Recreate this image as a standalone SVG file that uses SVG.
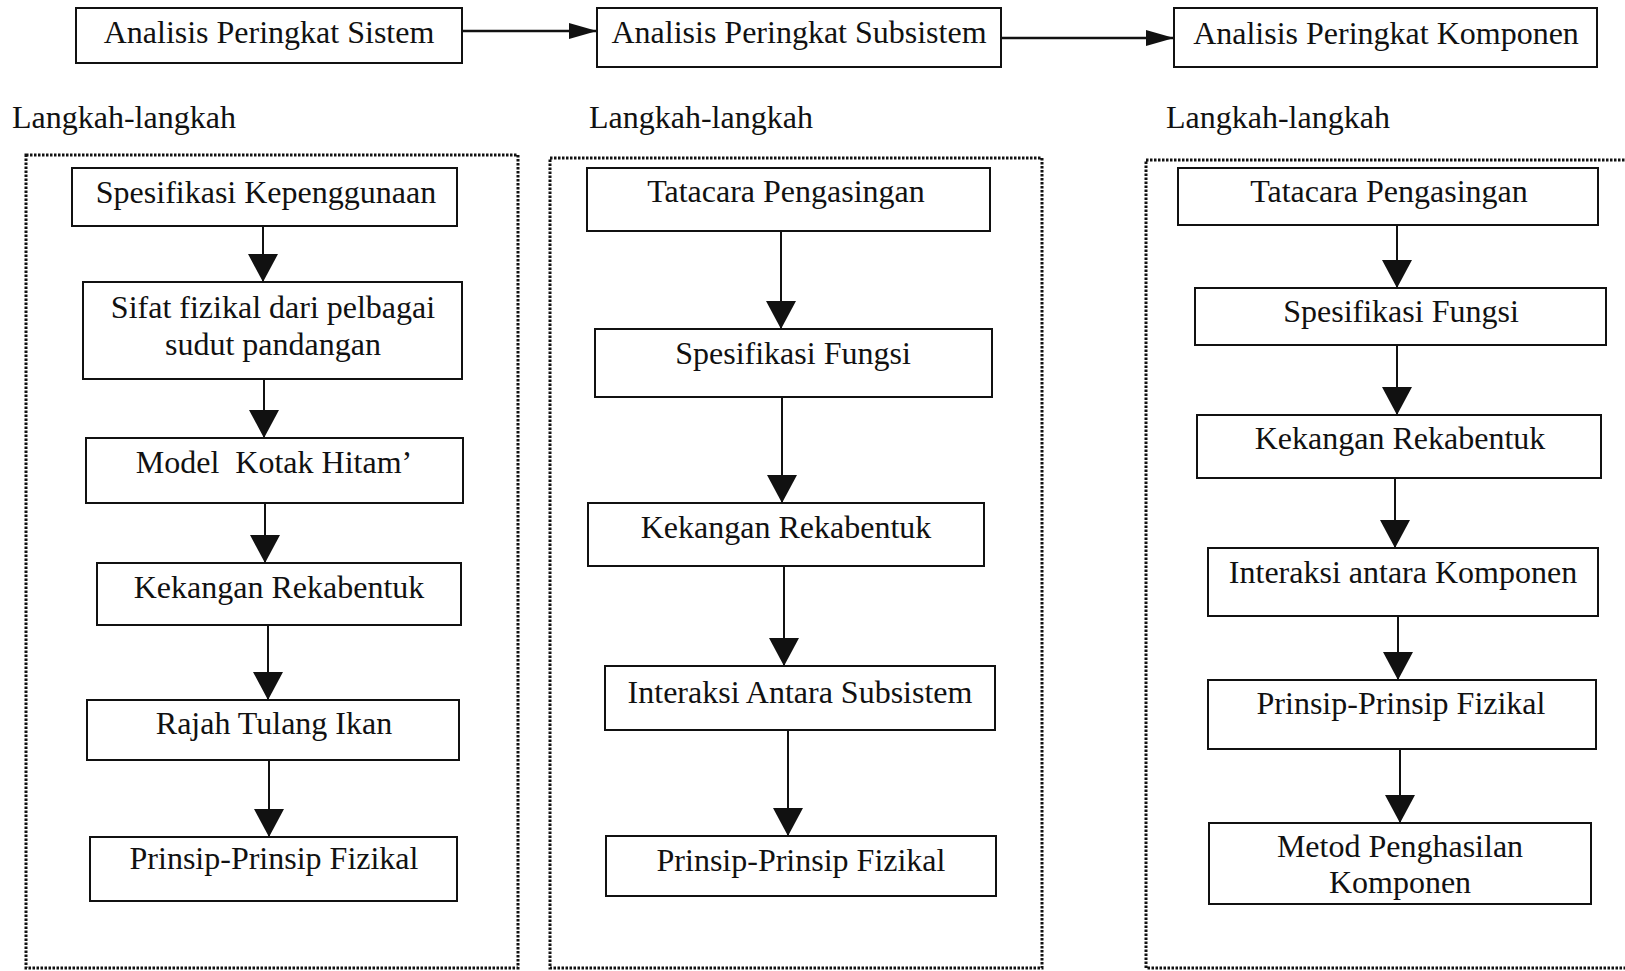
<svg xmlns="http://www.w3.org/2000/svg" width="1625" height="971" viewBox="0 0 1625 971">
<style>
  .box { fill: #fff; stroke: #111; stroke-width: 2; }
  .dot { fill: none; stroke: #111; stroke-width: 3; stroke-dasharray: 2.5 1.5; }
  .t { font-family: "Liberation Serif", "Times New Roman", serif; font-size: 32px; fill: #111; text-anchor: middle; }
  .lbl { font-family: "Liberation Serif", "Times New Roman", serif; font-size: 32px; fill: #111; }
  .v { stroke: #111; stroke-width: 2; fill: none; marker-end: url(#hv); }
  .h { stroke: #111; stroke-width: 2.5; fill: none; marker-end: url(#hh); }
</style>
<defs>
  <marker id="hv" markerUnits="userSpaceOnUse" markerWidth="28" markerHeight="30" refX="28" refY="15" orient="auto" viewBox="0 0 28 30">
    <path d="M0,0 L28,15 L0,30 Z" fill="#111"/>
  </marker>
  <marker id="hh" markerUnits="userSpaceOnUse" markerWidth="28" markerHeight="16" refX="28" refY="8" orient="auto" viewBox="0 0 28 16">
    <path d="M0,0 L28,8 L0,16 Z" fill="#111"/>
  </marker>
</defs>
<rect width="1625" height="971" fill="#fff"/>

<g id="frames">
  <rect class="dot" x="26" y="155" width="492" height="813"/>
  <rect class="dot" x="550" y="158" width="492" height="810"/>
  <rect class="dot" x="1146" y="160" width="500" height="808"/>
</g>

<g id="labels">
  <text class="lbl" x="12" y="128">Langkah-langkah</text>
  <text class="lbl" x="589" y="128">Langkah-langkah</text>
  <text class="lbl" x="1166" y="128">Langkah-langkah</text>
</g>

<g id="connectors">
  <line class="h" x1="462" y1="31" x2="597" y2="31"/>
  <line class="h" x1="1001" y1="38" x2="1174" y2="38"/>
  <line class="v" x1="263" y1="226" x2="263" y2="282"/>
  <line class="v" x1="264" y1="379" x2="264" y2="438"/>
  <line class="v" x1="265" y1="503" x2="265" y2="563"/>
  <line class="v" x1="268" y1="625" x2="268" y2="700"/>
  <line class="v" x1="269" y1="760" x2="269" y2="837"/>
  <line class="v" x1="781" y1="231" x2="781" y2="329"/>
  <line class="v" x1="782" y1="397" x2="782" y2="503"/>
  <line class="v" x1="784" y1="566" x2="784" y2="666"/>
  <line class="v" x1="788" y1="730" x2="788" y2="836"/>
  <line class="v" x1="1397" y1="225" x2="1397" y2="288"/>
  <line class="v" x1="1397" y1="345" x2="1397" y2="415"/>
  <line class="v" x1="1395" y1="478" x2="1395" y2="548"/>
  <line class="v" x1="1398" y1="616" x2="1398" y2="680"/>
  <line class="v" x1="1400" y1="749" x2="1400" y2="823"/>
</g>

<g id="top-sistem"><rect class="box" x="76" y="8" width="386" height="55"/><text class="t" x="269" y="43">Analisis Peringkat Sistem</text></g>
<g id="top-subsistem"><rect class="box" x="597" y="8" width="404" height="59"/><text class="t" x="799" y="43">Analisis Peringkat Subsistem</text></g>
<g id="top-komponen"><rect class="box" x="1174" y="8" width="423" height="59"/><text class="t" x="1386" y="44">Analisis Peringkat Komponen</text></g>

<g id="c1a"><rect class="box" x="72" y="168" width="385" height="58"/><text class="t" x="266" y="203">Spesifikasi Kepenggunaan</text></g>
<g id="c1b"><rect class="box" x="83" y="282" width="379" height="97"/><text class="t" x="273" y="318">Sifat fizikal dari pelbagai</text><text class="t" x="273" y="355">sudut pandangan</text></g>
<g id="c1c"><rect class="box" x="86" y="438" width="377" height="65"/><text class="t" x="274" y="473" xml:space="preserve">Model  Kotak Hitam’</text></g>
<g id="c1d"><rect class="box" x="97" y="563" width="364" height="62"/><text class="t" x="279" y="598">Kekangan Rekabentuk</text></g>
<g id="c1e"><rect class="box" x="87" y="700" width="372" height="60"/><text class="t" x="274" y="734">Rajah Tulang Ikan</text></g>
<g id="c1f"><rect class="box" x="90" y="837" width="367" height="64"/><text class="t" x="274" y="869">Prinsip-Prinsip Fizikal</text></g>

<g id="c2a"><rect class="box" x="587" y="168" width="403" height="63"/><text class="t" x="786" y="202">Tatacara Pengasingan</text></g>
<g id="c2b"><rect class="box" x="595" y="329" width="397" height="68"/><text class="t" x="793" y="364">Spesifikasi Fungsi</text></g>
<g id="c2c"><rect class="box" x="588" y="503" width="396" height="63"/><text class="t" x="786" y="538">Kekangan Rekabentuk</text></g>
<g id="c2d"><rect class="box" x="605" y="666" width="390" height="64"/><text class="t" x="800" y="703">Interaksi Antara Subsistem</text></g>
<g id="c2e"><rect class="box" x="606" y="836" width="390" height="60"/><text class="t" x="801" y="871">Prinsip-Prinsip Fizikal</text></g>

<g id="c3a"><rect class="box" x="1178" y="168" width="420" height="57"/><text class="t" x="1389" y="202">Tatacara Pengasingan</text></g>
<g id="c3b"><rect class="box" x="1195" y="288" width="411" height="57"/><text class="t" x="1401" y="322">Spesifikasi Fungsi</text></g>
<g id="c3c"><rect class="box" x="1197" y="415" width="404" height="63"/><text class="t" x="1400" y="449">Kekangan Rekabentuk</text></g>
<g id="c3d"><rect class="box" x="1208" y="548" width="390" height="68"/><text class="t" x="1403" y="583">Interaksi antara Komponen</text></g>
<g id="c3e"><rect class="box" x="1208" y="680" width="388" height="69"/><text class="t" x="1401" y="714">Prinsip-Prinsip Fizikal</text></g>
<g id="c3f"><rect class="box" x="1209" y="823" width="382" height="81"/><text class="t" x="1400" y="857">Metod Penghasilan</text><text class="t" x="1400" y="893">Komponen</text></g>
</svg>
